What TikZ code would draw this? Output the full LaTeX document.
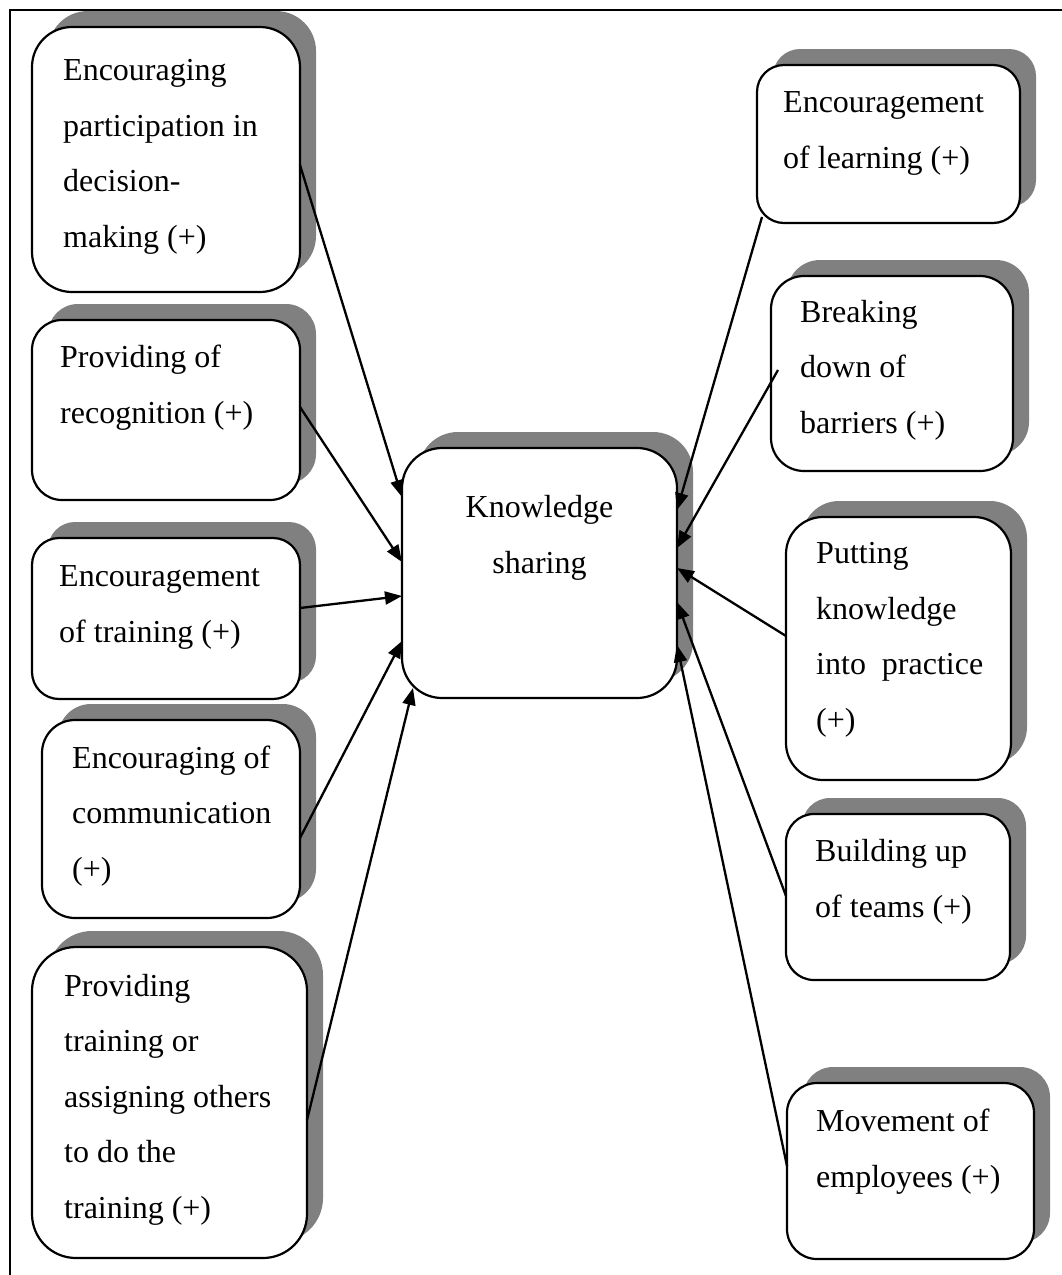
\documentclass[tikz,border=0pt]{standalone}
\usepackage{fontspec}
\setmainfont{Liberation Serif}
\usetikzlibrary{arrows.meta,shadows}
\begin{document}
\begin{tikzpicture}[x=1pt,y=-1pt,
  factor/.style={draw, line width=2.2pt, fill=white, inner sep=0pt, outer sep=0pt,
    drop shadow={shadow xshift=16pt, shadow yshift=16pt, opacity=1, fill=black!50}},
  lbl/.style={font=\fontsize{32pt}{55.5pt}\selectfont, align=left, anchor=base west, inner sep=0pt},
  influence/.style={line width=2.3pt, -{Triangle[length=17pt,width=13pt]}}]
\useasboundingbox (0,0) rectangle (1062,1275);

% open frame (top and left rules)
\draw[line width=1.6pt] (10,1275) -- (10,10) -- (1062,10);

% left column of factors
\node[factor, minimum width=268pt, minimum height=265pt, rounded corners=40pt] (l1) at (166,159.5) {};
\node[factor, minimum width=268pt, minimum height=180pt, rounded corners=30pt] (l2) at (166,410) {};
\node[factor, minimum width=268pt, minimum height=161pt, rounded corners=27pt] (l3) at (166,618.5) {};
\node[factor, minimum width=258pt, minimum height=198pt, rounded corners=33pt] (l4) at (171,819) {};
\node[factor, minimum width=275pt, minimum height=311pt, rounded corners=44pt] (l5) at (169.5,1102.5) {};

% central outcome
\node[factor, minimum width=275pt, minimum height=250pt, rounded corners=40pt] (c) at (539.5,573) {};

% right column of factors
\node[factor, minimum width=263pt, minimum height=158pt, rounded corners=27pt] (r1) at (888.5,144) {};
\node[factor, minimum width=242pt, minimum height=195pt, rounded corners=33pt] (r2) at (892,373.5) {};
\node[factor, minimum width=225pt, minimum height=263pt, rounded corners=37pt] (r3) at (898.5,648.5) {};
\node[factor, minimum width=224pt, minimum height=166pt, rounded corners=28pt] (r4) at (898,897) {};
\node[factor, minimum width=247pt, minimum height=176pt, rounded corners=30pt] (r5) at (910.5,1171) {};

% texts (anchored at the baseline of their last line)
\node[lbl] (l1t) at (63,247) {Encouraging\\participation in\\decision-\\making (+)};
\node[lbl] (l2t) at (60,423) {Providing of\\recognition (+)};
\node[lbl] (l3t) at (59,642) {Encouragement\\of training (+)};
\node[lbl] (l4t) at (72,879) {Encouraging of\\communication\\(+)};
\node[lbl] (l5t) at (64,1218) {Providing\\training or\\assigning others\\to do the\\training (+)};
\node[lbl, align=center, anchor=base] (ct) at (539.5,573) {Knowledge\\sharing};
\node[lbl] (r1t) at (783,168) {Encouragement\\of learning (+)};
\node[lbl] (r2t) at (800,433) {Breaking\\down of\\barriers (+)};
\node[lbl] (r3t) at (816,730) {Putting\\knowledge\\into\ \ practice\\(+)};
\node[lbl] (r4t) at (815,917) {Building up\\of teams (+)};
\node[lbl] (r5t) at (816,1187) {Movement of\\employees (+)};

% influences on knowledge sharing
\draw[influence] ([shift={(0,5.5)}]l1.east) -- ([shift={(0,-76)}]c.west);
\draw[influence] ([shift={(0,-3)}]l2.east) -- ([shift={(0,-11)}]c.west);
\draw[influence] ([shift={(0,-10.5)}]l3.east) -- ([shift={(0,23)}]c.west);
\draw[influence] ([shift={(0,19)}]l4.east) -- ([shift={(0,68)}]c.west);
\draw[influence] ([shift={(0,17.5)}]l5.east) -- ([shift={(11,-10)}]c.south west);

\draw[influence] ([shift={(5,-6)}]r1.south west) -- ([shift={(0,-63)}]c.east);
\draw[influence] ([shift={(7,-3.5)}]r2.west) -- ([shift={(0,-25)}]c.east);
\draw[influence] ([shift={(0,-12.5)}]r3.west) -- ([shift={(0,-5)}]c.east);
\draw[influence] ([shift={(0,-1)}]r4.west) -- ([shift={(0,29)}]c.east);
\draw[influence] ([shift={(0,-5)}]r5.west) -- ([shift={(0,72)}]c.east);
\end{tikzpicture}
\end{document}
